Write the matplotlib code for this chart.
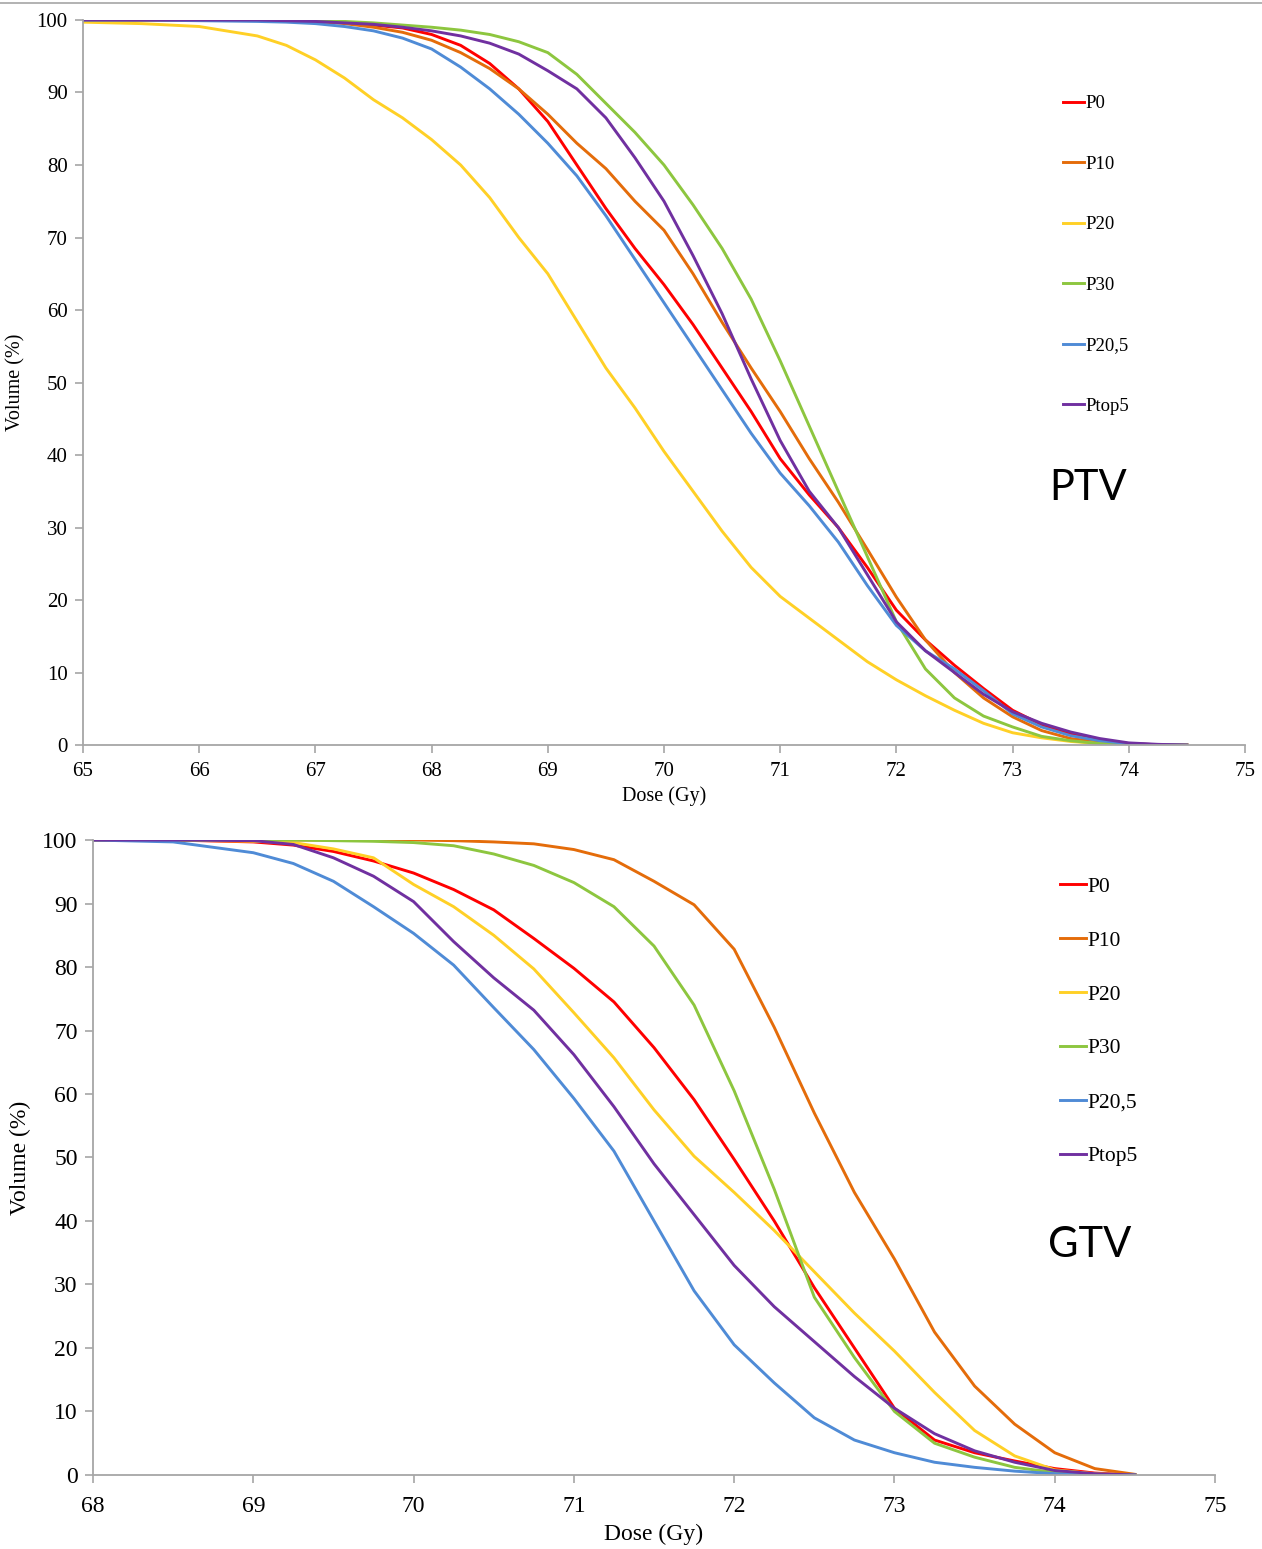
import matplotlib
matplotlib.use("Agg")
import matplotlib.pyplot as plt
from matplotlib.lines import Line2D

# ---- PTV (top panel) ----
ptv_dose = [65, 65.5, 66, 66.5, 66.75, 67, 67.25, 67.5, 67.75, 68, 68.25, 68.5, 68.75,
            69, 69.25, 69.5, 69.75, 70, 70.25, 70.5, 70.75, 71, 71.25, 71.5, 71.75,
            72, 72.25, 72.5, 72.75, 73, 73.25, 73.5, 73.75, 74, 74.25, 74.5]
ptv_p0 = [100, 100, 100, 100, 100.1, 100, 99.7, 99.3, 98.9, 98, 96.5, 94, 90.5,
          86, 80, 74, 68.5, 63.5, 58, 52, 46, 39.5, 34.5, 30, 24.5,
          18.6, 14.5, 11, 7.8, 4.8, 2.8, 1.5, 0.7, 0.2, 0.05, 0]
ptv_p10 = [100, 100, 100, 100, 99.9, 99.8, 99.5, 99, 98.3, 97.2, 95.5, 93.3, 90.5,
           87, 83, 79.5, 75, 71, 65, 58.3, 52, 46, 39.5, 33.5, 27,
           20.4, 14.5, 10, 6.5, 3.9, 2, 0.9, 0.4, 0.1, 0, 0]
ptv_p20 = [99.7, 99.5, 99.1, 97.8, 96.5, 94.5, 92, 89, 86.5, 83.5, 80, 75.5, 70,
           65, 58.5, 52, 46.5, 40.5, 35, 29.5, 24.5, 20.5, 17.5, 14.5, 11.5,
           9, 6.8, 4.8, 3, 1.7, 1, 0.5, 0.2, 0.1, 0, 0]
ptv_p30 = [100, 100, 100, 100, 100, 99.9, 99.8, 99.6, 99.3, 99, 98.6, 98, 97,
           95.5, 92.5, 88.5, 84.5, 80, 74.5, 68.5, 61.5, 53, 44, 35, 26,
           17, 10.5, 6.5, 4, 2.5, 1.2, 0.6, 0.2, 0.05, 0, 0]
ptv_p205 = [100, 100, 99.9, 99.8, 99.7, 99.5, 99.1, 98.5, 97.5, 96, 93.5, 90.5, 87,
            83, 78.5, 73, 67, 61, 55, 49, 43, 37.5, 33, 28, 22,
            16.5, 13, 10.5, 7.5, 4.3, 2.5, 1.3, 0.6, 0.2, 0.05, 0]
ptv_ptop5 = [100, 100, 100, 100, 99.9, 99.8, 99.6, 99.4, 99, 98.5, 97.8, 96.8, 95.3,
             93, 90.5, 86.5, 81, 75, 67.5, 59.5, 50.5, 42, 35, 30, 23.5,
             17, 13, 10, 7, 4.6, 3, 1.8, 0.9, 0.3, 0.1, 0]

# ---- GTV (bottom panel) ----
gtv_dose = [68, 68.5, 69, 69.25, 69.5, 69.75, 70, 70.25, 70.5, 70.75, 71, 71.25, 71.5,
            71.75, 72, 72.25, 72.5, 72.75, 73, 73.25, 73.5, 73.75, 74, 74.25, 74.5]
gtv_p0 = [100, 100, 99.7, 99.2, 98.2, 96.7, 94.8, 92.2, 89, 84.5, 79.8, 74.5, 67.3,
          59.1, 49.7, 40, 29.5, 20, 10.5, 5.5, 3.5, 2.2, 1.0, 0.3, 0]
gtv_p10 = [100, 100, 100, 100, 100, 100, 100, 99.9, 99.7, 99.4, 98.5, 96.9, 93.5,
           89.8, 82.8, 70.5, 57, 44.5, 34, 22.5, 14, 8, 3.5, 1, 0.1]
gtv_p20 = [100, 100, 99.8, 99.6, 98.6, 97.2, 93, 89.5, 85, 79.7, 72.8, 65.7, 57.5,
           50.2, 44.5, 38.5, 32, 25.5, 19.5, 13, 7, 3, 0.8, 0.2, 0]
gtv_p30 = [100, 100, 100, 100, 99.9, 99.8, 99.6, 99.1, 97.8, 96, 93.3, 89.5, 83.3,
           74, 60.5, 45, 28, 18.5, 10, 5, 2.8, 1.2, 0.4, 0.1, 0]
gtv_p205 = [100, 99.7, 98, 96.3, 93.5, 89.5, 85.3, 80.3, 73.6, 67, 59.3, 51, 40,
            29, 20.5, 14.5, 9, 5.5, 3.5, 2, 1.2, 0.6, 0.2, 0.05, 0]
gtv_ptop5 = [100, 100, 99.9, 99.3, 97.2, 94.3, 90.3, 84, 78.3, 73.2, 66.2, 58, 49,
             41, 33, 26.5, 21, 15.5, 10.5, 6.5, 3.8, 2, 0.7, 0.2, 0]

labels = ["P0", "P10", "P20", "P30", "P20,5", "Ptop5"]
colors = ["#FF0000", "#E46C0A", "#FFD026", "#8DC63F", "#4F8BD6", "#7030A0"]

serif = "Liberation Serif"
axis_gray = "#A6A6A6"

fig = plt.figure(figsize=(12.62, 15.49), dpi=100)
fig.add_artist(Line2D([0, 1], [0.998, 0.998], color=axis_gray, lw=1.2))

ax1 = fig.add_axes([0.0658, 0.5190, 0.9207, 0.4681])
ax2 = fig.add_axes([0.0737, 0.0478, 0.8891, 0.4099])

# ax, dose, series, xlim, tick size, label size, legend size, xpad, xlabelpad, legend anchor, spacing, handle
panels = [
    (ax1, ptv_dose, [ptv_p0, ptv_p10, ptv_p20, ptv_p30, ptv_p205, ptv_ptop5],
     (65, 75), 15, 14.5, 13.5, 6, 4, (0.835, 0.909), 2.31, 1.15),
    (ax2, gtv_dose, [gtv_p0, gtv_p10, gtv_p20, gtv_p30, gtv_p205, gtv_ptop5],
     (68, 75), 17, 17, 15.5, 9, 5, (0.852, 0.959), 1.57, 1.2),
]

for ax, dose, series, xlim, tick_fs, lab_fs, leg_fs, xpad, xlpad, anchor, spacing, hl in panels:
    for vals, lab, col in zip(series, labels, colors):
        ax.plot(dose, vals, color=col, lw=2.1, label=lab)
    ax.set_xlim(*xlim)
    ax.set_ylim(0, 100)
    ax.set_xticks(range(xlim[0], xlim[1] + 1))
    ax.set_yticks(range(0, 101, 10))
    for s in ["top", "right"]:
        ax.spines[s].set_visible(False)
    for s in ["left", "bottom"]:
        ax.spines[s].set_color(axis_gray)
        ax.spines[s].set_linewidth(1.3)
    ax.tick_params(colors=axis_gray, length=6, width=1.2, labelcolor="black",
                   labelsize=tick_fs)
    ax.tick_params(axis="x", pad=xpad)
    ax.tick_params(axis="y", pad=5)
    for t in ax.get_xticklabels() + ax.get_yticklabels():
        t.set_fontfamily(serif)
    ax.set_xlabel("Dose (Gy)", fontfamily=serif, fontsize=lab_fs, labelpad=xlpad)
    ax.set_ylabel("Volume (%)", fontfamily=serif, fontsize=lab_fs, labelpad=8)
    ax.legend(loc="upper left", bbox_to_anchor=anchor, frameon=False,
              handlelength=hl, handletextpad=0.08, labelspacing=spacing,
              borderpad=0, prop={"family": serif, "size": leg_fs})

ax1.text(73.65, 35.4, "PTV", fontfamily="Lato", fontsize=30, ha="center", va="center")
ax2.text(74.22, 36.2, "GTV", fontfamily="Lato", fontsize=30, ha="center", va="center")

fig.savefig("out.png", dpi=100, facecolor="white")
